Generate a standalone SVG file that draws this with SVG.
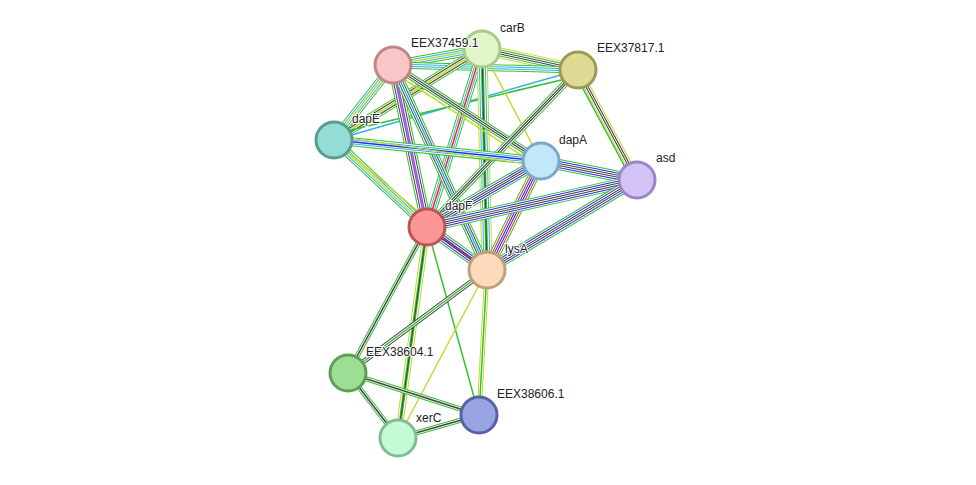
<svg xmlns="http://www.w3.org/2000/svg" width="976" height="485" viewBox="0 0 976 485">
<style>
line{fill:none}
.g{stroke:#33c133}.b{stroke:#2fb3e0}.y{stroke:#c6d92f}.k{stroke:#444}.m{stroke:#d22fd2}.r{stroke:#f22}.u{stroke:#2a2af0}.w{stroke:#fff}
.n circle{stroke-width:3}
text{font-family:"Liberation Sans",Arial,sans-serif;font-size:12px;fill:#222;paint-order:stroke;stroke:#fff;stroke-width:2px}
</style>
<rect width="976" height="485" fill="#fff"/>
<g id="connectors">
<!-- carB-EEX37459 -->
<line x1="482" y1="49" x2="393" y2="65" class="g" stroke-width="9"/><line x1="482" y1="49" x2="393" y2="65" class="w" stroke-width="7"/><line x1="482" y1="49" x2="393" y2="65" class="b" stroke-width="5"/><line x1="482" y1="49" x2="393" y2="65" class="w" stroke-width="3"/><line x1="482" y1="49" x2="393" y2="65" class="y" stroke-width="1.5"/>
<!-- carB-EEX37817 -->
<line x1="482" y1="49" x2="578" y2="70" class="y" stroke-width="11"/><line x1="482" y1="49" x2="578" y2="70" class="w" stroke-width="9"/><line x1="482" y1="49" x2="578" y2="70" class="g" stroke-width="7"/><line x1="482" y1="49" x2="578" y2="70" class="w" stroke-width="5"/><line x1="482" y1="49" x2="578" y2="70" class="k" stroke-width="3"/><line x1="482" y1="49" x2="578" y2="70" class="w" stroke-width="1"/>
<!-- EEX37459-EEX37817 -->
<line x1="393" y1="65" x2="578" y2="70" class="g" stroke-width="7"/><line x1="393" y1="65" x2="578" y2="70" class="w" stroke-width="5"/><line x1="393" y1="65" x2="578" y2="70" class="b" stroke-width="3"/><line x1="393" y1="65" x2="578" y2="70" class="w" stroke-width="1"/>
<!-- carB-dapE -->
<line x1="482" y1="49" x2="334" y2="140" class="g" stroke-width="9"/><line x1="482" y1="49" x2="334" y2="140" class="w" stroke-width="7"/><line x1="482" y1="49" x2="334" y2="140" class="k" stroke-width="5"/><line x1="482" y1="49" x2="334" y2="140" class="w" stroke-width="3"/><line x1="482" y1="49" x2="334" y2="140" class="y" stroke-width="1.5"/>
<!-- EEX37459-dapE -->
<line x1="393" y1="65" x2="334" y2="140" class="g" stroke-width="9"/><line x1="393" y1="65" x2="334" y2="140" class="w" stroke-width="7"/><line x1="393" y1="65" x2="334" y2="140" class="b" stroke-width="5"/><line x1="393" y1="65" x2="334" y2="140" class="w" stroke-width="3"/><line x1="393" y1="65" x2="334" y2="140" class="y" stroke-width="1.5"/>
<!-- EEX37817-dapE -->
<line x1="578" y1="70" x2="334" y2="140" class="b" stroke-width="1.5"/><line x1="578" y1="76" x2="334" y2="134" class="g" stroke-width="1.5"/>
<!-- carB-dapF -->
<line x1="482" y1="49" x2="427" y2="227" class="g" stroke-width="9"/><line x1="482" y1="49" x2="427" y2="227" class="w" stroke-width="7"/><line x1="482" y1="49" x2="427" y2="227" class="b" stroke-width="5"/><line x1="482" y1="49" x2="427" y2="227" class="w" stroke-width="3"/><line x1="482" y1="49" x2="427" y2="227" class="r" stroke-width="1.5"/>
<!-- carB-lysA -->
<line x1="482" y1="49" x2="487" y2="270" class="y" stroke-width="11"/><line x1="482" y1="49" x2="487" y2="270" class="w" stroke-width="9"/><line x1="482" y1="49" x2="487" y2="270" class="b" stroke-width="7"/><line x1="482" y1="49" x2="487" y2="270" class="w" stroke-width="5"/><line x1="482" y1="49" x2="487" y2="270" class="g" stroke-width="3"/><line x1="482" y1="49" x2="487" y2="270" class="k" stroke-width="1"/>
<!-- carB-dapA -->
<line x1="482" y1="49" x2="541" y2="161" class="y" stroke-width="1.5"/>
<!-- EEX37459-dapF -->
<line x1="393" y1="65" x2="427" y2="227" class="g" stroke-width="11"/><line x1="393" y1="65" x2="427" y2="227" class="w" stroke-width="9"/><line x1="393" y1="65" x2="427" y2="227" class="k" stroke-width="7"/><line x1="393" y1="65" x2="427" y2="227" class="w" stroke-width="5"/><line x1="393" y1="65" x2="427" y2="227" class="m" stroke-width="3"/><line x1="393" y1="65" x2="427" y2="227" class="b" stroke-width="1"/>
<!-- EEX37459-lysA -->
<line x1="393" y1="65" x2="487" y2="270" class="g" stroke-width="9"/><line x1="393" y1="65" x2="487" y2="270" class="w" stroke-width="7"/><line x1="393" y1="65" x2="487" y2="270" class="k" stroke-width="5"/><line x1="393" y1="65" x2="487" y2="270" class="w" stroke-width="3"/><line x1="393" y1="65" x2="487" y2="270" class="b" stroke-width="1.5"/>
<!-- EEX37459-dapA -->
<line x1="393" y1="65" x2="541" y2="161" class="g" stroke-width="7"/><line x1="393" y1="65" x2="541" y2="161" class="w" stroke-width="5"/><line x1="393" y1="65" x2="541" y2="161" class="k" stroke-width="3"/><line x1="393" y1="65" x2="541" y2="161" class="w" stroke-width="1"/>
<line x1="393" y1="72" x2="541" y2="168" class="y" stroke-width="1.5"/>
<!-- EEX37817-dapF -->
<line x1="578" y1="70" x2="427" y2="227" class="g" stroke-width="7"/><line x1="578" y1="70" x2="427" y2="227" class="w" stroke-width="5"/><line x1="578" y1="70" x2="427" y2="227" class="k" stroke-width="3"/><line x1="578" y1="70" x2="427" y2="227" class="w" stroke-width="1"/>
<!-- EEX37817-asd -->
<line x1="578" y1="70" x2="637" y2="180" class="y" stroke-width="7"/><line x1="578" y1="70" x2="637" y2="180" class="w" stroke-width="5"/><line x1="578" y1="70" x2="637" y2="180" class="k" stroke-width="3"/><line x1="578" y1="70" x2="637" y2="180" class="w" stroke-width="1"/>
<line x1="574" y1="72" x2="633" y2="182" class="g" stroke-width="1.5"/>
<!-- dapE-dapF -->
<line x1="334" y1="140" x2="427" y2="227" class="g" stroke-width="9"/><line x1="334" y1="140" x2="427" y2="227" class="w" stroke-width="7"/><line x1="334" y1="140" x2="427" y2="227" class="b" stroke-width="5"/><line x1="334" y1="140" x2="427" y2="227" class="w" stroke-width="3"/><line x1="334" y1="140" x2="427" y2="227" class="y" stroke-width="1.5"/>
<!-- dapE-dapA -->
<line x1="334" y1="140" x2="541" y2="161" class="g" stroke-width="9"/><line x1="334" y1="140" x2="541" y2="161" class="w" stroke-width="7"/><line x1="334" y1="140" x2="541" y2="161" class="b" stroke-width="5"/><line x1="334" y1="140" x2="541" y2="161" class="w" stroke-width="3"/><line x1="334" y1="140" x2="541" y2="161" class="u" stroke-width="1.5"/>
<line x1="334" y1="136" x2="637" y2="180" class="y" stroke-width="1.2"/>
<!-- dapE-lysA -->
<line x1="334" y1="140" x2="487" y2="270" class="y" stroke-width="1.5"/>
<!-- dapA-asd -->
<line x1="541" y1="161" x2="637" y2="180" class="g" stroke-width="11"/><line x1="541" y1="161" x2="637" y2="180" class="w" stroke-width="9"/><line x1="541" y1="161" x2="637" y2="180" class="u" stroke-width="7"/><line x1="541" y1="161" x2="637" y2="180" class="w" stroke-width="5"/><line x1="541" y1="161" x2="637" y2="180" class="k" stroke-width="3"/><line x1="541" y1="161" x2="637" y2="180" class="w" stroke-width="1"/>
<!-- dapA-dapF -->
<line x1="541" y1="161" x2="427" y2="227" class="g" stroke-width="11"/><line x1="541" y1="161" x2="427" y2="227" class="w" stroke-width="9"/><line x1="541" y1="161" x2="427" y2="227" class="u" stroke-width="7"/><line x1="541" y1="161" x2="427" y2="227" class="w" stroke-width="5"/><line x1="541" y1="161" x2="427" y2="227" class="k" stroke-width="3"/><line x1="541" y1="161" x2="427" y2="227" class="w" stroke-width="1"/>
<!-- dapA-lysA -->
<line x1="541" y1="161" x2="487" y2="270" class="g" stroke-width="11"/><line x1="541" y1="161" x2="487" y2="270" class="w" stroke-width="9"/><line x1="541" y1="161" x2="487" y2="270" class="r" stroke-width="7"/><line x1="541" y1="161" x2="487" y2="270" class="w" stroke-width="5"/><line x1="541" y1="161" x2="487" y2="270" class="u" stroke-width="3"/><line x1="541" y1="161" x2="487" y2="270" class="w" stroke-width="1"/>
<!-- asd-dapF -->
<line x1="637" y1="180" x2="427" y2="227" class="g" stroke-width="11"/><line x1="637" y1="180" x2="427" y2="227" class="w" stroke-width="9"/><line x1="637" y1="180" x2="427" y2="227" class="u" stroke-width="7"/><line x1="637" y1="180" x2="427" y2="227" class="w" stroke-width="5"/><line x1="637" y1="180" x2="427" y2="227" class="k" stroke-width="3"/><line x1="637" y1="180" x2="427" y2="227" class="w" stroke-width="1"/>
<!-- asd-lysA -->
<line x1="637" y1="180" x2="487" y2="270" class="g" stroke-width="11"/><line x1="637" y1="180" x2="487" y2="270" class="w" stroke-width="9"/><line x1="637" y1="180" x2="487" y2="270" class="u" stroke-width="7"/><line x1="637" y1="180" x2="487" y2="270" class="w" stroke-width="5"/><line x1="637" y1="180" x2="487" y2="270" class="k" stroke-width="3"/><line x1="637" y1="180" x2="487" y2="270" class="w" stroke-width="1"/>
<!-- dapF-lysA -->
<line x1="427" y1="227" x2="487" y2="270" class="g" stroke-width="11"/><line x1="427" y1="227" x2="487" y2="270" class="w" stroke-width="9"/><line x1="427" y1="227" x2="487" y2="270" class="u" stroke-width="7"/><line x1="427" y1="227" x2="487" y2="270" class="w" stroke-width="5"/><line x1="427" y1="227" x2="487" y2="270" class="k" stroke-width="3"/><line x1="427" y1="227" x2="487" y2="270" class="m" stroke-width="1"/>
<!-- lower edges -->
<line x1="427" y1="227" x2="348" y2="373" class="g" stroke-width="5"/><line x1="427" y1="227" x2="348" y2="373" class="w" stroke-width="3"/><line x1="427" y1="227" x2="348" y2="373" class="k" stroke-width="1.5"/>
<line x1="427" y1="227" x2="398" y2="438" class="y" stroke-width="7"/><line x1="427" y1="227" x2="398" y2="438" class="w" stroke-width="5"/><line x1="427" y1="227" x2="398" y2="438" class="g" stroke-width="3"/><line x1="427" y1="227" x2="398" y2="438" class="k" stroke-width="1"/>
<line x1="427" y1="227" x2="479" y2="415" class="g" stroke-width="1.5"/>
<line x1="487" y1="270" x2="348" y2="373" class="k" stroke-width="5"/><line x1="487" y1="270" x2="348" y2="373" class="w" stroke-width="3"/><line x1="487" y1="270" x2="348" y2="373" class="g" stroke-width="1.5"/>
<line x1="487" y1="270" x2="398" y2="438" class="y" stroke-width="1.5"/>
<line x1="487" y1="270" x2="479" y2="415" class="y" stroke-width="5"/><line x1="487" y1="270" x2="479" y2="415" class="w" stroke-width="3"/><line x1="487" y1="270" x2="479" y2="415" class="g" stroke-width="1.5"/>
<line x1="348" y1="373" x2="479" y2="415" class="g" stroke-width="5"/><line x1="348" y1="373" x2="479" y2="415" class="w" stroke-width="3"/><line x1="348" y1="373" x2="479" y2="415" class="k" stroke-width="1.5"/>
<line x1="348" y1="373" x2="398" y2="438" class="g" stroke-width="5"/><line x1="348" y1="373" x2="398" y2="438" class="w" stroke-width="3"/><line x1="348" y1="373" x2="398" y2="438" class="k" stroke-width="1.5"/>
<line x1="398" y1="438" x2="479" y2="415" class="g" stroke-width="5"/><line x1="398" y1="438" x2="479" y2="415" class="w" stroke-width="3"/><line x1="398" y1="438" x2="479" y2="415" class="k" stroke-width="1.5"/>
</g>
<g id="carB" class="n"><circle cx="482" cy="49" r="18" fill="#e0f5c8" stroke="#a9cc8a"/><text x="500" y="32">carB</text></g>
<g id="EEX37459.1" class="n"><circle cx="393" cy="65" r="18" fill="#f7c6c6" stroke="#c08686"/><text x="411" y="47">EEX37459.1</text></g>
<g id="EEX37817.1" class="n"><circle cx="578" cy="70" r="18" fill="#dedb95" stroke="#9c9a58"/><text x="597" y="52">EEX37817.1</text></g>
<g id="dapE" class="n"><circle cx="334" cy="140" r="18" fill="#94ddd4" stroke="#5a9b92"/><text x="352" y="123">dapE</text></g>
<g id="dapA" class="n"><circle cx="541" cy="161" r="18" fill="#c2e6fa" stroke="#7ba8c2"/><text x="559" y="144">dapA</text></g>
<g id="asd" class="n"><circle cx="637" cy="180" r="18" fill="#d3c3f7" stroke="#9a85c9"/><text x="656" y="162">asd</text></g>
<g id="dapF" class="n"><circle cx="427" cy="227" r="18" fill="#fc9595" stroke="#bb5555"/><text x="445" y="210">dapF</text></g>
<g id="lysA" class="n"><circle cx="487" cy="270" r="18" fill="#fcdbbc" stroke="#c0a07c"/><text x="505" y="253">lysA</text></g>
<g id="EEX38604.1" class="n"><circle cx="348" cy="373" r="18" fill="#9cde94" stroke="#5f9e57"/><text x="366" y="356">EEX38604.1</text></g>
<g id="EEX38606.1" class="n"><circle cx="479" cy="415" r="18" fill="#99a4e3" stroke="#5562a4"/><text x="497" y="398">EEX38606.1</text></g>
<g id="xerC" class="n"><circle cx="398" cy="438" r="18" fill="#c2fbd6" stroke="#7fbd95"/><text x="416" y="422">xerC</text></g>
</svg>
